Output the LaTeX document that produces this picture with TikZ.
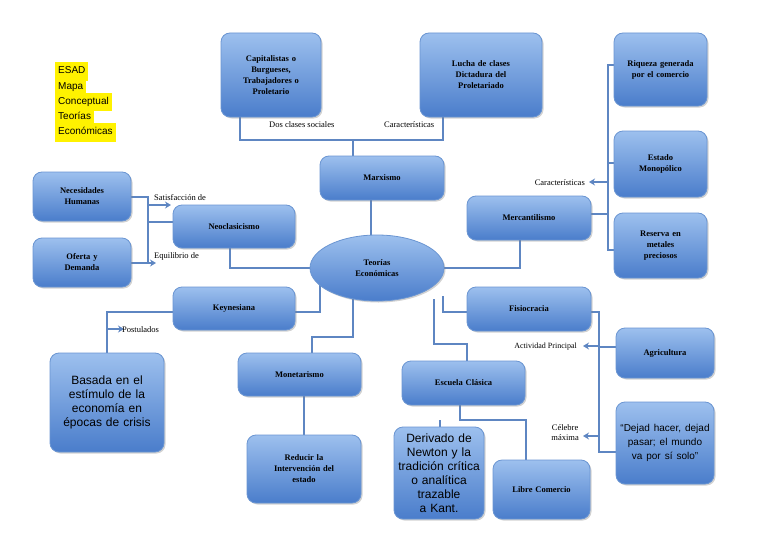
\documentclass[tikz,border=0pt]{standalone}
\usepackage{fontspec}
\setmainfont{Liberation Serif}
\newfontfamily\sansf{Liberation Sans}
\usetikzlibrary{shadows,arrows.meta,shapes.geometric}
\definecolor{btop}{HTML}{9DC0EE}
\definecolor{bbot}{HTML}{4A7DCB}
\definecolor{bline}{HTML}{6A95D2}
\definecolor{lnk}{HTML}{5E86C2}
\begin{document}
\begin{tikzpicture}[x=1pt,y=-1pt,
 box/.style={draw=bline,line width=0.8pt,rounded corners=9pt,top color=btop,bottom color=bbot,
   drop shadow={opacity=0.35,shadow xshift=1.5pt,shadow yshift=-1.5pt},
   align=center,font=\bfseries\fontsize{8.5}{11}\selectfont,inner sep=2pt},
 sbox/.style={box,font=\sansf\fontsize{12}{14}\selectfont},
 lk/.style={draw=lnk,line width=2.2pt},
 ar/.style={lk,-{Stealth[length=6pt,width=7pt]}},
 lab/.style={font=\fontsize{8.5}{10}\selectfont,inner sep=1pt,align=center}]
\useasboundingbox (0,0) rectangle (768,543);
\fill[white] (0,0) rectangle (768,543);
\newcommand{\bx}[6][box]{\pgfmathsetmacro{\bwd}{#4-#2}\pgfmathsetmacro{\bht}{#5-#3}\pgfmathsetmacro{\btw}{#4-#2-8}%
 \node[#1,minimum width=\bwd pt,minimum height=\bht pt,text width=\btw pt] (#6) at ({(#2+#4)/2},{(#3+#5)/2})}
% connectors
\draw[lk] (240,117) -- (240,140) -- (443,140) -- (443,117);
\draw[lk] (353,156) -- (353,140);
\draw[lk] (371,200) -- (371,236);
\draw[lk] (311,268) -- (230,268) -- (230,248);
\draw[lk] (443,268) -- (520,268) -- (520,240);
\draw[lk] (591,214) -- (608,214);
\draw[lk] (614,65) -- (608,65) -- (608,250) -- (614,250);
\draw[lk] (608,163) -- (614,163);
\draw[ar] (608,182) -- (589,182);
\draw[lk] (131,197) -- (148,197) -- (148,263);
\draw[ar] (148,205) -- (171,205);
\draw[lk] (148,222) -- (173,222);
\draw[ar] (131,263) -- (156,263);
\draw[lk] (320,283) -- (320,312) -- (295,312);
\draw[lk] (173,312) -- (107,312) -- (107,353);
\draw[ar] (107,329) -- (124,329);
\draw[lk] (353,299) -- (353,337) -- (312,337) -- (312,353);
\draw[lk] (304,396) -- (304,435);
\draw[lk] (434,299) -- (434,344) -- (467,344) -- (467,361);
\draw[lk] (443,296) -- (443,312) -- (467,312);
\draw[lk] (591,312) -- (599,312) -- (599,452) -- (616,452);
\draw[lk] (599,347) -- (616,347);
\draw[ar] (599,346) -- (583,346);
\draw[ar] (599,436) -- (583,436);
\draw[lk] (460,405) -- (460,420) -- (526,420) -- (526,460);
\draw[lk] (440,420) -- (440,427);
% nodes
\bx{221}{33}{321}{117}{cap} {Capitalistas o\\Burgueses,\\Trabajadores o\\Proletario};
\bx{420}{33}{542}{117}{luc} {Lucha de clases\\Dictadura del\\Proletariado\\[12pt]};
\bx{614}{33}{707}{106}{riq} {Riqueza generada\\por el comercio\\[12pt]};
\bx{614}{131}{707}{197}{est} {Estado\\Monopólico};
\bx{614}{213}{707}{278}{res} {Reserva en\\metales\\preciosos};
\bx{320}{156}{444}{200}{mar} {Marxismo};
\bx{467}{196}{591}{240}{mer} {Mercantilismo};
\bx{33}{172}{131}{221}{nec} {Necesidades\\Humanas};
\bx{33}{238}{131}{287}{ofe} {Oferta y\\Demanda};
\bx{173}{205}{295}{248}{neo} {Neoclasicismo};
\node[ellipse,draw=bline,line width=0.8pt,top color=btop,bottom color=bbot,minimum width=134pt,minimum height=66pt,
  drop shadow={opacity=0.35,shadow xshift=1.5pt,shadow yshift=-1.5pt},align=center,
  font=\bfseries\fontsize{8.5}{11}\selectfont] (teo) at (377,268) {Teorías\\Económicas};
\bx{173}{287}{295}{330}{key} {Keynesiana};
\bx[sbox]{50}{353}{164}{452}{bas} {Basada en el estímulo de la economía en épocas de crisis};
\bx{238}{353}{361}{396}{mon} {Monetarismo};
\bx{247}{435}{361}{503}{red} {Reducir la\\Intervención del\\estado};
\bx{467}{287}{591}{331}{fis} {Fisiocracia};
\bx{616}{328}{714}{378}{agr} {Agricultura};
\bx[sbox]{616}{402}{714}{484}{dej} {\fontsize{10}{12}\selectfont“Dejad hacer, dejad pasar; el mundo va por sí solo”};
\bx{402}{361}{525}{405}{esc} {Escuela Clásica};
\bx[sbox]{394}{427}{484}{519}{der} {Derivado de Newton y la tradición crítica o analítica trazable a Kant.};
\bx{493}{460}{590}{519}{lib} {Libre Comercio};
% labels
\node[lab,anchor=west] at (268,125) {Dos clases sociales};
\node[lab,anchor=west] at (383,125) {Características};
\node[lab,anchor=east] at (586,183) {Características};
\node[lab,anchor=west] at (153,198) {Satisfacción de};
\node[lab,anchor=west] at (153,256) {Equilibrio de};
\node[lab,anchor=west] at (121,330) {Postulados};
\node[lab,anchor=east,font=\fontsize{8}{10}\selectfont] at (578,347) {Actividad Principal};
\node[lab,anchor=east] at (580,433) {Célebre\\máxima};
\node[anchor=north west,align=left,inner sep=0pt,font=\sansf\fontsize{10}{12.5}\selectfont] at (55,62)
 {\colorbox{yellow}{\strut ESAD}\\[-4.3pt]\colorbox{yellow}{\strut Mapa}\\[-4.3pt]\colorbox{yellow}{\strut Conceptual}\\[-4.3pt]\colorbox{yellow}{\strut Teorías}\\[-4.3pt]\colorbox{yellow}{\strut Económicas}};
\end{tikzpicture}
\end{document}
